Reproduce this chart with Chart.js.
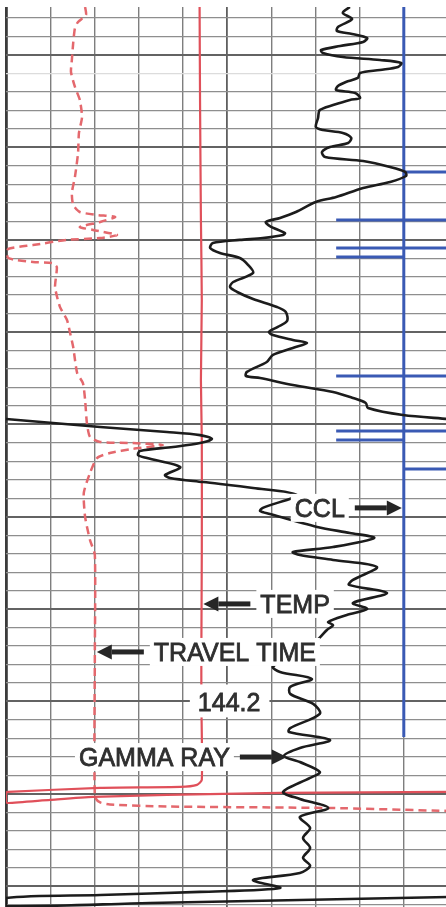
<!DOCTYPE html>
<html>
<head>
<meta charset="utf-8">
<script src="https://cdn.jsdelivr.net/npm/chart.js@4.4.1/dist/chart.umd.min.js"></script>
<style>
  html, body { margin: 0; padding: 0; background: #ffffff; overflow: hidden; width: 446px; height: 907px; }
  canvas { display: block; }
</style>
</head>
<body>
<canvas id="log" width="448" height="907" style="width:448px;height:907px"></canvas>
<script>
// ---- Log readings (depth in ft) ----
// Gamma ray, API. null marks the pen wrapping from the right edge back to the left.
const gammaDepth = [
  1974.0, 1977.2, 1980.5, 1984.8, 1987.0, 1988.6, 1990.8, 1992.9, 1995.1, 1997.3,
  1998.9, 2001.1, 2002.7, 2004.3, 2006.5, 2008.1, 2009.7, 2012.4, 2014.6, 2016.8,
  2018.9, 2020.6, 2023.3, 2024.3, 2027.1, 2029.8, 2034.1, 2039.0, 2040.6, 2042.2,
  2044.9, 2047.6, 2049.8, 2052.5, 2055.2, 2057.4, 2060.6, 2063.3, 2065.5, 2068.7,
  2072.0, 2076.9, 2079.6, 2085.0, 2088.2, 2090.4, 2092.6, 2096.4, 2097.4, 2099.1,
  2100.1, 2101.8, 2104.5, 2107.2, 2109.9, 2113.7, 2118.0, 2122.9, 2125.6, 2128.3,
  2132.1, 2136.4, 2139.1, 2144.0, 2147.2, 2149.9, 2151.6, 2154.3, 2155.9, 2158.6,
  2162.4, 2166.2, 2171.6, 2173.8, 2174.9, 2178.7, 2182.4, 2185.7, 2188.4, 2191.1,
  2194.9, 2197.1, null,
  2197.1, 2201.4, 2204.1, 2205.8, 2207.9, 2210.1, 2212.2, 2214.4, 2216.6, 2218.2,
  2223.1, 2227.4, 2229.0, 2231.2, 2234.4, 2238.2, 2245.2, 2246.9, 2248.5, 2255.5,
  2258.8, 2261.5, 2266.4, 2269.1, 2270.7, 2273.4, 2277.2, 2284.2, 2286.9, 2291.3,
  2296.7, 2299.9, 2303.2, 2307.0, 2308.6, 2311.3, 2316.7, 2323.7, 2331.3, 2334.0,
  2337.8, 2342.1, 2345.9, 2351.3, 2356.7, 2364.4, 2366.5, 2370.9, 2375.2, 2379.5,
  2382.8, 2388.2, 2391.4, 2399.0, 2402.8, 2407.7, 2412.5, 2418.5, 2423.9, 2429.3,
  2434.7, 2439.0, 2442.9, 2446.7, 2451.0, 2453.1, 2454.8, 2456.4, 2460.8, 2459.1,
  2457.5, 2455.9
];
const gammaApi = [
  77.8, 76.2, 78.3, 75.1, 74.9, 78.3, 81.7, 80.8, 75.6, 71.3,
  71.7, 76.2, 84.6, 89.4, 88.7, 84.6, 80.1, 79.6, 76.9, 75.1,
  74.7, 79.0, 80.1, 77.8, 74.0, 71.0, 70.6, 70.1, 71.7, 76.2,
  78.1, 77.4, 73.3, 71.5, 72.2, 80.8, 86.9, 90.3, 90.5, 86.9,
  80.8, 74.7, 70.1, 65.6, 62.0, 58.8, 59.7, 63.1, 62.7, 58.1,
  52.9, 46.8, 46.2, 48.4, 52.9, 54.8, 55.9, 51.4, 50.7, 52.3,
  55.9, 61.3, 63.3, 63.6, 61.5, 59.5, 60.4, 64.9, 68.1, 64.9,
  60.4, 59.0, 54.5, 54.3, 57.5, 64.9, 74.0, 78.5, 81.4, 81.9,
  89.8, 100.0, null,
  0.0, 21.3, 36.4, 43.9, 46.6, 43.9, 37.8, 30.3, 29.9, 31.9,
  39.4, 36.0, 37.1, 44.6, 55.9, 65.8, 58.1, 57.5, 59.7, 70.4,
  77.8, 83.3, 74.0, 64.9, 66.5, 74.0, 83.9, 78.5, 77.6, 86.2,
  78.5, 81.7, 77.1, 72.9, 74.0, 72.6, 70.4, 65.4, 60.4, 62.0,
  69.2, 64.3, 64.3, 69.5, 71.0, 64.3, 64.0, 73.3, 66.5, 62.9,
  66.5, 71.0, 68.8, 62.7, 66.5, 72.9, 66.5, 68.8, 67.2, 68.8,
  67.2, 68.8, 66.5, 55.9, 62.0, 43.9, 21.3, 0.0, 0.0, 32.6,
  66.5, 100.0
];

// Sonic travel time, microseconds per ft
const ttDepth = [
  1974.0, 1978.3, 1982.1, 1985.4, 1993.5, 2002.7, 2009.2, 2017.3, 2024.3, 2033.6,
  2042.2, 2053.0, 2066.0, 2074.7, 2081.2, 2085.0, 2086.6, 2087.7, 2090.4, 2093.1,
  2094.7, 2097.4, 2099.1, 2100.1, 2102.9, 2105.0, 2109.9, 2112.1, 2112.6, 2114.8,
  2125.6, 2136.4, 2143.5, 2150.5, 2158.1, 2172.2, 2177.6, 2186.8, 2199.2, 2206.8,
  2209.5, 2210.1, 2211.1, 2213.3, 2215.5, 2218.2, 2226.3, 2237.1, 2250.1, 2262.6,
  2270.7, 2323.7, 2401.7, 2404.7, 2405.8, 2406.9, 2407.7, 2409.3
];
const ttUsft = [
  122.1, 121.9, 123.7, 124.4, 124.8, 125.1, 125.3, 124.4, 123.3, 122.8,
  123.5, 123.7, 124.4, 125.1, 124.8, 123.3, 119.4, 115.3, 118.7, 123.3,
  120.3, 114.9, 118.7, 126.2, 133.9, 139.5, 139.5, 133.9, 129.6, 128.5,
  128.9, 127.8, 126.2, 125.5, 124.8, 123.9, 122.6, 122.1, 121.7, 121.0,
  118.7, 111.3, 104.5, 111.3, 116.5, 119.4, 121.0, 122.4, 122.1, 121.0,
  119.9, 119.9, 119.9, 118.7, 116.5, 103.6, 66.7, 40.0
];

// Temperature, deg F
const tempDepth = [
  1974.0, 2024.3, 2089.3, 2132.6, 2175.9, 2208.4, 2268.0, 2322.1, 2350.0, 2392.5,
  2395.2, 2396.3, 2396.8, 2399.0, 2399.5, 2404.4, 2405.0, 2403.3, 2401.7, 2400.6,
  2399.5, 2399.0
];
const tempF = [
  143.8, 143.9, 144.1, 144.3, 144.1, 144.3, 144.3, 144.2, 144.2, 144.3,
  143.2, 139.4, 121.3, 100.5, 100.0, 100.0, 100.5, 110.0, 119.7, 136.4,
  162.0, 200.0
];

// Casing collar locator, mV
const cclDepth = [
  1974.0, 2063.3, 2063.3, 2063.3, 2089.3, 2089.3, 2089.3, 2089.3, 2104.5, 2104.5,
  2104.5, 2104.5, 2109.4, 2109.4, 2109.4, 2173.8, 2173.8, 2173.8, 2173.8, 2203.6,
  2203.6, 2203.6, 2203.6, 2208.4, 2208.4, 2208.4, 2224.1, 2224.1, 2224.1, 2369.2
];
const cclMv = [
  0, 0, 1, 0, 0, -1.53, 1, 0, 0, -1.53,
  1, 0, 0, -1.53, 0, 0, -1.53, 1, 0, 0,
  -1.53, 1, 0, 0, -1.53, 0, 0, 1, 0, 0
];

// Callouts naming each curve; value is where the arrow meets that curve
const callouts = [
  { text: 'CCL',         axis: 'xCCL',  value: 0,     depth: 2245.2, pointTo: 'right' },
  { text: 'TEMP',        axis: 'xTemp', value: 144.2, depth: 2297.2, pointTo: 'left'  },
  { text: 'TRAVEL TIME', axis: 'xTT',   value: 119.9, depth: 2323.2, pointTo: 'left'  },
  { text: 'GAMMA RAY',   axis: 'x',     value: 64.0,  depth: 2380.1, pointTo: 'right' }
];
const tempReadout = { value: 144.2, depth: 2350 };

// ---- Drawing ----
const track = (depths, values) =>
  depths.map((d, i) => (values[i] === null ? { x: null, y: null } : { x: values[i], y: d }));

const THIN = '#8e8e8e', THICK = '#636363';
const FONT = '25px "Liberation Sans", Arial, Helvetica, sans-serif';
const INK = '#2f2f2f';

const calloutPlugin = {
  id: 'callouts',
  afterDatasetsDraw(chart) {
    const ctx = chart.ctx;
    const yScale = chart.scales.y;
    const ARROW_LEN = 47, HEAD_LEN = 15, HEAD_HALF = 7.5, SHAFT = 5, GAP = 10, CAP = 18;
    ctx.save();
    ctx.font = FONT;
    ctx.textBaseline = 'alphabetic';
    ctx.lineWidth = 0.8;
    ctx.strokeStyle = INK;

    callouts.forEach(c => {
      const cx = chart.scales[c.axis].getPixelForValue(c.value);
      const y = yScale.getPixelForValue(c.depth);
      const dir = c.pointTo === 'right' ? 1 : -1;
      const tip = cx - dir * 2;
      const tail = tip - dir * ARROW_LEN;
      const w = ctx.measureText(c.text).width;
      const left = dir === 1 ? tail - GAP - w : tail + GAP;

      ctx.fillStyle = '#ffffff';
      ctx.fillRect(left - 4, y - CAP / 2 - 5, w + 8, CAP + 10);
      ctx.fillStyle = INK;
      ctx.textAlign = 'left';
      ctx.fillText(c.text, left, y + CAP / 2);
      ctx.strokeText(c.text, left, y + CAP / 2);

      // arrow
      const neck = tip - dir * HEAD_LEN;
      ctx.fillStyle = '#262626';
      ctx.fillRect(Math.min(tail, neck), y - SHAFT / 2, Math.abs(neck - tail), SHAFT);
      ctx.beginPath();
      ctx.moveTo(tip, y);
      ctx.lineTo(neck, y - HEAD_HALF);
      ctx.lineTo(neck, y + HEAD_HALF);
      ctx.closePath();
      ctx.fill();
    });

    // temperature readout sitting on the curve
    const tx = chart.scales.xTemp.getPixelForValue(tempReadout.value);
    const ty = yScale.getPixelForValue(tempReadout.depth);
    const label = tempReadout.value.toFixed(1);
    const lw = ctx.measureText(label).width;
    const lx = tx - 3.5;
    ctx.fillStyle = '#ffffff';
    ctx.fillRect(lx - 8, ty - 17, lw + 17, 33);
    ctx.fillStyle = INK;
    ctx.fillText(label, lx, ty + CAP / 2 + 0.5);
    ctx.strokeText(label, lx, ty + CAP / 2 + 0.5);
    ctx.restore();
  }
};

const hiddenX = (min, max, reverse) => ({
  type: 'linear', axis: 'x', position: 'bottom', display: false, min, max, reverse: !!reverse
});

new Chart(document.getElementById('log'), {
  type: 'scatter',
  data: {
    datasets: [
      {
        label: 'GAMMA RAY', data: track(gammaDepth, gammaApi), xAxisID: 'x', yAxisID: 'y',
        showLine: true, borderColor: '#1c1c1c', borderWidth: 2.6, pointRadius: 0,
        tension: 0.3, fill: false, spanGaps: false, borderJoinStyle: 'round'
      },
      {
        label: 'CCL', data: track(cclDepth, cclMv), xAxisID: 'xCCL', yAxisID: 'y',
        showLine: true, borderColor: '#3a5ab4', borderWidth: 3, pointRadius: 0,
        tension: 0, fill: false, borderJoinStyle: 'bevel'
      },
      {
        label: 'TEMP', data: track(tempDepth, tempF), xAxisID: 'xTemp', yAxisID: 'y',
        showLine: true, borderColor: '#e0505a', borderWidth: 2.2, pointRadius: 0,
        tension: 0.2, fill: false
      },
      {
        label: 'TRAVEL TIME', data: track(ttDepth, ttUsft), xAxisID: 'xTT', yAxisID: 'y',
        showLine: true, borderColor: '#e4686d', borderWidth: 2.5, borderDash: [8, 5],
        pointRadius: 0, tension: 0.2, fill: false
      }
    ]
  },
  options: {
    responsive: false,
    animation: false,
    events: [],
    devicePixelRatio: 1,
    layout: { padding: { left: 6, right: 0, top: 7, bottom: 0 } },
    plugins: { legend: { display: false }, tooltip: { enabled: false } },
    scales: {
      x: {
        type: 'linear', position: 'bottom', min: 0, max: 100,
        ticks: { display: false, stepSize: 10 },
        border: { display: false },
        grid: {
          drawTicks: false,
          color: ctx => (ctx.tick.value === 0 ? '#3c3c3c' : ctx.tick.value === 50 ? '#5f5f5f' : '#7e7e7e'),
          lineWidth: ctx => (ctx.tick.value === 0 ? 2.8 : ctx.tick.value === 50 ? 1.8 : 1.4)
        }
      },
      xTemp: hiddenX(100, 200),
      xTT: hiddenX(40, 140, true),
      xCCL: hiddenX(-9, 1),
      y: {
        type: 'linear', position: 'left', reverse: true, min: 1974.0, max: 2461.3,
        ticks: { display: false, stepSize: 10, includeBounds: false },
        border: { display: false },
        grid: {
          drawTicks: false,
          color: ctx => (ctx.tick.value % 50 === 0 ? THICK : ctx.tick.value === 2010 ? '#dcdcdc' : THIN),
          lineWidth: ctx => (ctx.tick.value % 50 === 0 ? 2.0 : 1.3)
        }
      }
    }
  },
  plugins: [calloutPlugin]
});
</script>
</body>
</html>
